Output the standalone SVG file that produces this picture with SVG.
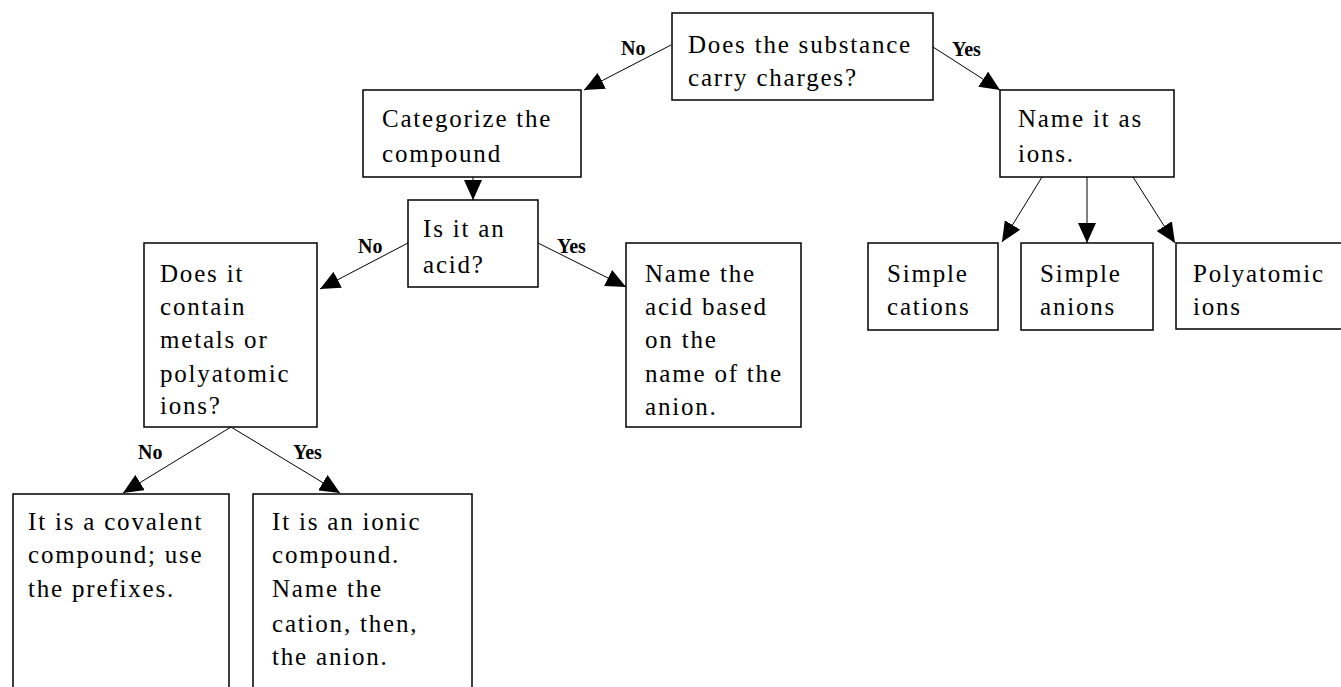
<svg xmlns="http://www.w3.org/2000/svg" width="1341" height="687" viewBox="0 0 1341 687">
<defs>
<style>
.box{fill:#fff;stroke:#000;stroke-width:1.5}
.t{font-family:"Liberation Serif","Times New Roman",serif;font-size:25px;letter-spacing:1.8px;fill:#000}
.lbl{font-family:"Liberation Serif","Times New Roman",serif;font-size:20px;font-weight:bold;fill:#000}
.c{stroke:#000;stroke-width:1;fill:none;marker-end:url(#ah)}
</style>
<marker id="ah" viewBox="0 0 20 18" refX="20" refY="9" markerWidth="20" markerHeight="18" markerUnits="userSpaceOnUse" orient="auto">
<path d="M0,0 L20,9 L0,18 z" fill="#000"/>
</marker>
</defs>
<rect width="1341" height="687" fill="#fff"/>
<g id="connectors">
<line class="c" x1="671" y1="45" x2="584" y2="90"/>
<line class="c" x1="933" y1="47" x2="1000" y2="90"/>
<line class="c" x1="473" y1="177" x2="473" y2="200"/>
<line class="c" x1="408" y1="243" x2="320" y2="289"/>
<line class="c" x1="538" y1="243" x2="626" y2="287"/>
<line class="c" x1="231" y1="427" x2="123" y2="493"/>
<line class="c" x1="231" y1="427" x2="340" y2="493"/>
<line class="c" x1="1042" y1="177" x2="1002" y2="242"/>
<line class="c" x1="1087" y1="177" x2="1087" y2="243"/>
<line class="c" x1="1133" y1="177" x2="1175" y2="243"/>
<text class="lbl" x="621" y="55">No</text>
<text class="lbl" x="952" y="56">Yes</text>
<text class="lbl" x="358" y="253">No</text>
<text class="lbl" x="557" y="253">Yes</text>
<text class="lbl" x="138" y="459">No</text>
<text class="lbl" x="293" y="459">Yes</text>
</g>
<g id="n-charges">
<rect class="box" x="672" y="13" width="261" height="87"/>
<text class="t" x="688" y="53">Does the substance</text>
<text class="t" x="688" y="86">carry charges?</text>
</g>
<g id="n-categorize">
<rect class="box" x="363" y="90" width="218" height="87"/>
<text class="t" x="382" y="127">Categorize the</text>
<text class="t" x="382" y="162">compound</text>
</g>
<g id="n-acid">
<rect class="box" x="408" y="200" width="130" height="87"/>
<text class="t" x="423" y="237">Is it an</text>
<text class="t" x="423" y="273">acid?</text>
</g>
<g id="n-metals">
<rect class="box" x="144" y="243" width="173" height="184"/>
<text class="t" x="160" y="282">Does it</text>
<text class="t" x="160" y="315">contain</text>
<text class="t" x="160" y="348">metals or</text>
<text class="t" x="160" y="382">polyatomic</text>
<text class="t" x="160" y="414">ions?</text>
</g>
<g id="n-nameacid">
<rect class="box" x="626" y="243" width="175" height="184"/>
<text class="t" x="645" y="282">Name the</text>
<text class="t" x="645" y="315">acid based</text>
<text class="t" x="645" y="348">on the</text>
<text class="t" x="645" y="382">name of the</text>
<text class="t" x="645" y="415">anion.</text>
</g>
<g id="n-ions">
<rect class="box" x="1000" y="90" width="174" height="87"/>
<text class="t" x="1018" y="127">Name it as</text>
<text class="t" x="1018" y="162">ions.</text>
</g>
<g id="n-cations">
<rect class="box" x="868" y="243" width="130" height="87"/>
<text class="t" x="887" y="282">Simple</text>
<text class="t" x="887" y="315">cations</text>
</g>
<g id="n-anions">
<rect class="box" x="1021" y="243" width="132" height="87"/>
<text class="t" x="1040" y="282">Simple</text>
<text class="t" x="1040" y="315">anions</text>
</g>
<g id="n-polyatomic">
<rect class="box" x="1176" y="243" width="200" height="86"/>
<text class="t" x="1193" y="282">Polyatomic</text>
<text class="t" x="1193" y="315">ions</text>
</g>
<g id="n-covalent">
<rect class="box" x="13" y="494" width="216" height="220"/>
<text class="t" x="28" y="530">It is a covalent</text>
<text class="t" x="28" y="563">compound; use</text>
<text class="t" x="28" y="597">the prefixes.</text>
</g>
<g id="n-ionic">
<rect class="box" x="253" y="494" width="219" height="220"/>
<text class="t" x="272" y="530">It is an ionic</text>
<text class="t" x="272" y="563">compound.</text>
<text class="t" x="272" y="597">Name the</text>
<text class="t" x="272" y="632">cation, then,</text>
<text class="t" x="272" y="665">the anion.</text>
</g>
</svg>
